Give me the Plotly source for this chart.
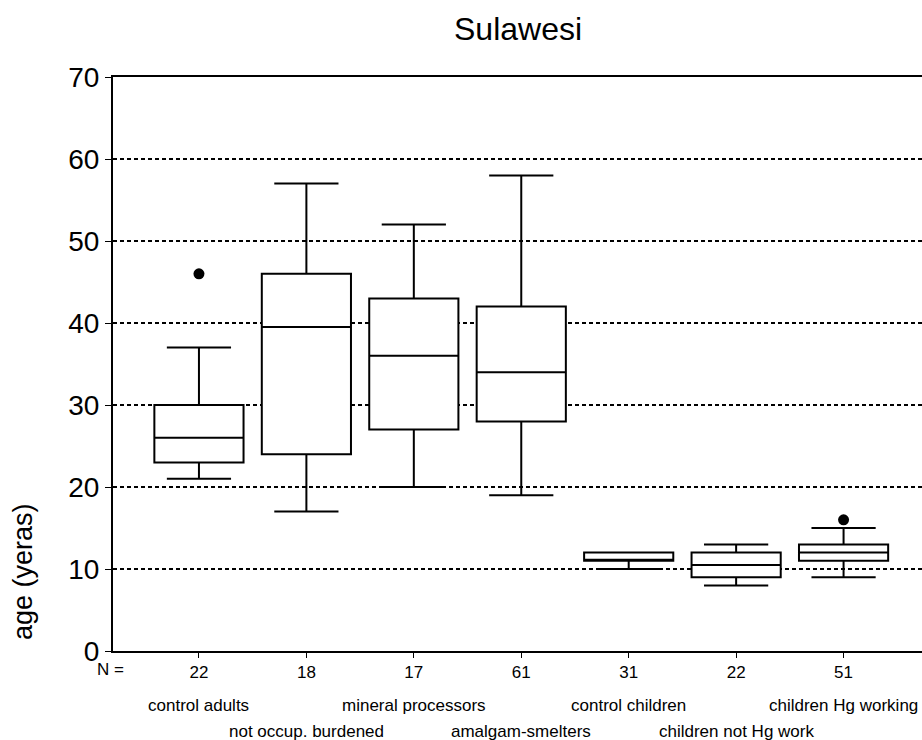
import plotly.graph_objects as go

categories = ["control adults", "not occup. burdened", "mineral processors",
              "amalgam-smelters", "control children", "children not Hg work",
              "children Hg working"]
n_counts = [22, 18, 17, 61, 31, 22, 51]
lower_whisker = [21, 17, 20, 19, 10, 8, 9]
q1 = [23, 24, 27, 28, 11, 9, 11]
median = [26, 39.5, 36, 34, 11, 10.5, 12]
q3 = [30, 46, 43, 42, 12, 12, 13]
upper_whisker = [37, 57, 52, 58, 12, 13, 15]
outlier_cat = [0, 6]
outlier_val = [46, 16]
y_ticks = [0, 10, 20, 30, 40, 50, 60, 70]

positions = list(range(len(categories)))
FONT = "Liberation Sans, Arial, sans-serif"

fig = go.Figure()
fig.add_trace(go.Box(
    x=positions, q1=q1, median=median, q3=q3,
    lowerfence=lower_whisker, upperfence=upper_whisker,
    width=0.83, whiskerwidth=0.72,
    fillcolor="white", line=dict(color="black", width=2),
    boxpoints=False, showlegend=False, hoverinfo="skip",
))
fig.add_trace(go.Scatter(
    x=outlier_cat, y=outlier_val, mode="markers",
    marker=dict(color="black", size=11), showlegend=False,
))

fig.update_layout(
    width=922, height=740,
    margin=dict(l=113, r=0, t=77, b=89),
    paper_bgcolor="white", plot_bgcolor="white",
    font=dict(family=FONT, color="black"),
    xaxis=dict(
        range=[-0.8, 6.73], tickmode="array", tickvals=positions,
        ticktext=[str(n) for n in n_counts], tickfont=dict(size=17),
        showline=True, linecolor="black", linewidth=2, mirror=True,
        ticks="outside", ticklen=5, tickcolor="black", showgrid=False,
        zeroline=False,
    ),
    yaxis=dict(
        range=[0, 70], tickmode="array", tickvals=y_ticks,
        tickfont=dict(size=28),
        showline=True, linecolor="black", linewidth=2,
        ticks="outside", ticklen=6, tickcolor="black",
        showgrid=True, gridcolor="black", gridwidth=1.5, griddash="4px,3px",
        zeroline=False,
    ),
)

annotations = [
    dict(text="Sulawesi", x=0.5006, y=1.0836, xref="paper", yref="paper",
         showarrow=False, font=dict(size=32), xanchor="center", yanchor="middle"),
    dict(text="age (yeras)", x=-0.1112, y=0.1376, xref="paper", yref="paper",
         showarrow=False, textangle=-90, font=dict(size=27),
         xanchor="center", yanchor="middle"),
    dict(text="N =", x=-0.0025, y=-0.0331, xref="paper", yref="paper",
         showarrow=False, font=dict(size=17), xanchor="center", yanchor="middle"),
]
for i, cat in enumerate(categories):
    yrow = -0.0941 if i % 2 == 0 else -0.1394
    annotations.append(dict(text=cat, x=positions[i], y=yrow, xref="x", yref="paper",
                            showarrow=False, font=dict(size=17),
                            xanchor="center", yanchor="middle"))
fig.update_layout(annotations=annotations)

fig.write_html("out.html",
               config={"displayModeBar": False},
               post_script="document.body.style.margin='0';document.body.style.overflow='hidden';")
